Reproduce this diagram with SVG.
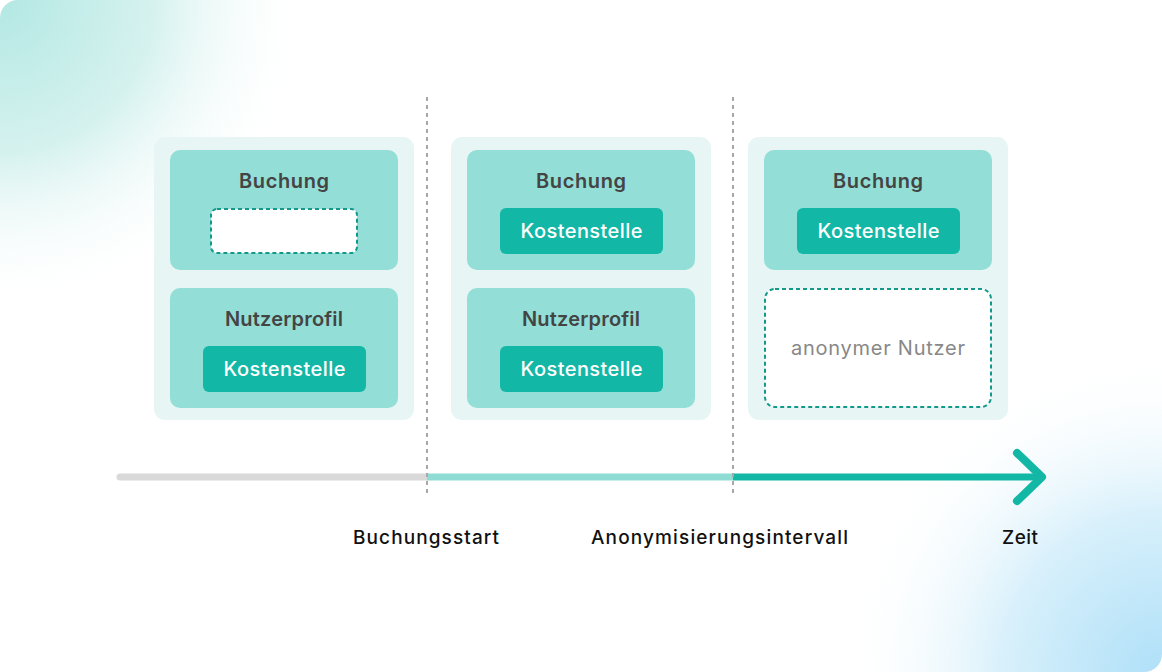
<svg xmlns="http://www.w3.org/2000/svg" width="1162" height="672" viewBox="0 0 1162 672">
<defs>
<radialGradient id="gTL" cx="0" cy="0" r="310" gradientUnits="userSpaceOnUse">
<stop offset="0" stop-color="#b3e8e3"/>
<stop offset="0.5" stop-color="#d6f2ef"/>
<stop offset="1" stop-color="#ffffff" stop-opacity="0"/>
</radialGradient>
<radialGradient id="gBR" cx="1162" cy="672" r="320" gradientUnits="userSpaceOnUse">
<stop offset="0" stop-color="#afe0f8"/>
<stop offset="0.5" stop-color="#d8f0fb"/>
<stop offset="1" stop-color="#ffffff" stop-opacity="0"/>
</radialGradient>
<clipPath id="card"><rect x="0" y="0" width="1162" height="672" rx="18"/></clipPath>
<style>
.panel{fill:#e7f6f4}
.box{fill:#93ded6}
.key{fill:#13b7a6}
.dash{fill:#fff;stroke:#13998c;stroke-width:2;stroke-dasharray:4 3}
.title{font-family:Inter,"Open Sans",sans-serif;font-weight:600;font-size:20px;fill:#444;text-anchor:middle}
.kt{font-family:Inter,"Open Sans",sans-serif;font-weight:500;font-size:20px;fill:#fff;text-anchor:middle}
.anon{font-family:Inter,"Open Sans",sans-serif;font-weight:400;font-size:20px;fill:#888;text-anchor:middle}
.lbl{font-family:Inter,"Open Sans",sans-serif;font-weight:500;font-size:19px;fill:#111;text-anchor:middle}
.vline{stroke:#a8a8a8;stroke-width:2;stroke-dasharray:4 4}
</style>
</defs>
<g clip-path="url(#card)">
<rect width="1162" height="672" fill="#fff"/>
<rect width="1162" height="672" fill="url(#gTL)"/>
<rect width="1162" height="672" fill="url(#gBR)"/>
</g>

<g id="panel1">
<rect class="panel" x="154" y="137" width="260" height="283" rx="11"/>
<g id="p1-buchung">
<rect class="box" x="170" y="150" width="228" height="120" rx="10"/>
<text class="title" x="284" y="188" textLength="90" lengthAdjust="spacing">Buchung</text>
<rect class="dash" x="211" y="209" width="146" height="44" rx="6"/>
</g>
<g id="p1-nutzer">
<rect class="box" x="170" y="288" width="228" height="120" rx="10"/>
<text class="title" x="284" y="326" textLength="118" lengthAdjust="spacing">Nutzerprofil</text>
<rect class="key" x="203" y="346" width="163" height="46" rx="6"/>
<text class="kt" x="284.5" y="376" textLength="122" lengthAdjust="spacing">Kostenstelle</text>
</g>
</g>

<g id="panel2">
<rect class="panel" x="451" y="137" width="260" height="283" rx="11"/>
<g id="p2-buchung">
<rect class="box" x="467" y="150" width="228" height="120" rx="10"/>
<text class="title" x="581" y="188" textLength="90" lengthAdjust="spacing">Buchung</text>
<rect class="key" x="500" y="208" width="163" height="46" rx="6"/>
<text class="kt" x="581.5" y="238" textLength="122" lengthAdjust="spacing">Kostenstelle</text>
</g>
<g id="p2-nutzer">
<rect class="box" x="467" y="288" width="228" height="120" rx="10"/>
<text class="title" x="581" y="326" textLength="118" lengthAdjust="spacing">Nutzerprofil</text>
<rect class="key" x="500" y="346" width="163" height="46" rx="6"/>
<text class="kt" x="581.5" y="376" textLength="122" lengthAdjust="spacing">Kostenstelle</text>
</g>
</g>

<g id="panel3">
<rect class="panel" x="748" y="137" width="260" height="283" rx="11"/>
<g id="p3-buchung">
<rect class="box" x="764" y="150" width="228" height="120" rx="10"/>
<text class="title" x="878" y="188" textLength="90" lengthAdjust="spacing">Buchung</text>
<rect class="key" x="797" y="208" width="163" height="46" rx="6"/>
<text class="kt" x="878.5" y="238" textLength="122" lengthAdjust="spacing">Kostenstelle</text>
</g>
<g id="p3-anon">
<rect class="dash" x="765" y="289" width="226" height="118" rx="10"/>
<text class="anon" x="878" y="355" textLength="174" lengthAdjust="spacing">anonymer Nutzer</text>
</g>
</g>

<g id="connectors">
<line x1="120" y1="477" x2="427" y2="477" stroke="#d9d9d9" stroke-width="7" stroke-linecap="round"/>
<line x1="427" y1="477" x2="733" y2="477" stroke="#8fdcd4" stroke-width="7"/>
<line x1="733" y1="477" x2="1040" y2="477" stroke="#13b7a6" stroke-width="7"/>
<polyline points="1017,453 1042,477 1017,501" fill="none" stroke="#13b7a6" stroke-width="8" stroke-linecap="round" stroke-linejoin="round"/>
<line class="vline" x1="427" y1="97" x2="427" y2="497"/>
<line class="vline" x1="733" y1="97" x2="733" y2="497"/>
</g>

<g id="labels">
<text class="lbl" x="426" y="544" textLength="146" lengthAdjust="spacing">Buchungsstart</text>
<text class="lbl" x="719.5" y="544" textLength="257" lengthAdjust="spacing">Anonymisierungsintervall</text>
<text class="lbl" x="1020" y="544" textLength="36" lengthAdjust="spacing">Zeit</text>
</g>
</svg>
